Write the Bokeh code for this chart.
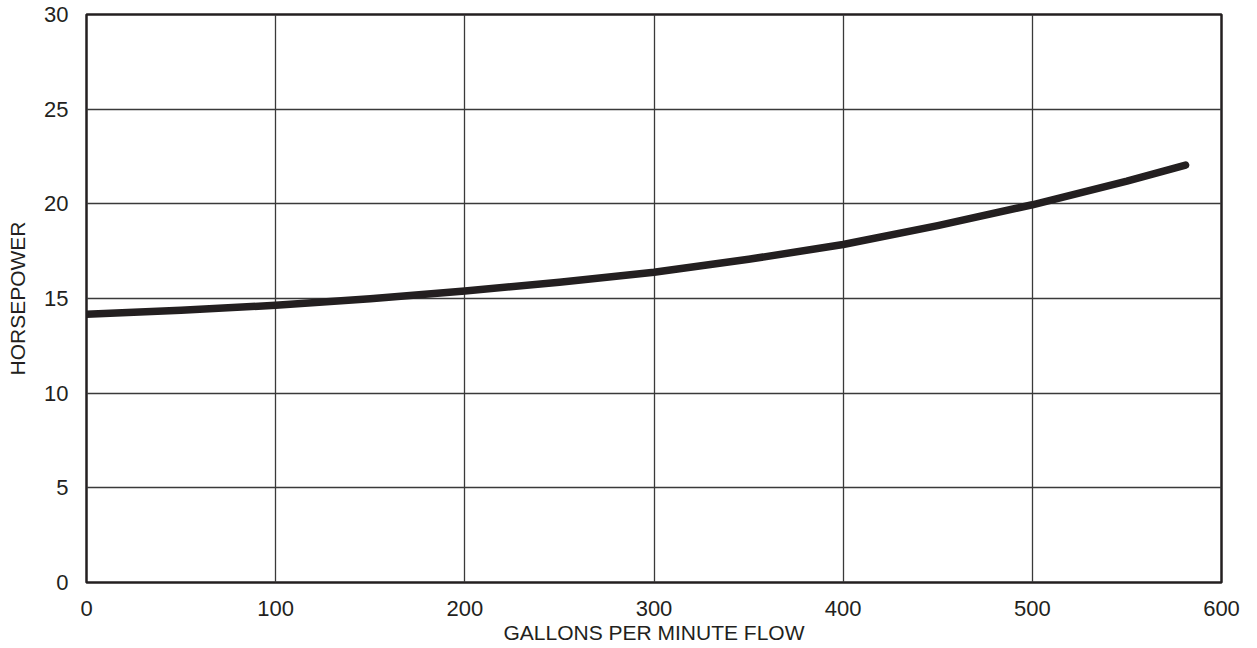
from bokeh.plotting import figure
from bokeh.embed import file_html
from bokeh.resources import INLINE
from bokeh.models import Range1d, FixedTicker

# Data
gpm = [0, 50, 100, 150, 200, 250, 300, 350, 400, 450, 500, 550, 581]
horsepower = [14.17, 14.38, 14.64, 14.99, 15.40, 15.86, 16.39, 17.07, 17.85, 18.85, 19.95, 21.20, 22.05]
x_ticks = [0, 100, 200, 300, 400, 500, 600]
y_ticks = [0, 5, 10, 15, 20, 25, 30]

INK = "#231f20"
FONT = "Liberation Sans"

p = figure(frame_width=1135, frame_height=568, output_backend="svg", toolbar_location=None,
           x_range=Range1d(0, 600), y_range=Range1d(0, 30),
           min_border_left=86, min_border_right=20, min_border_top=14, min_border_bottom=50)

p.outline_line_color = INK
p.outline_line_width = 2.5
p.outline_line_alpha = 1.0

for ax in (p.xaxis[0], p.yaxis[0]):
    ax.axis_line_color = None
    ax.major_tick_line_color = None
    ax.minor_tick_line_color = None
    ax.major_tick_in = 0
    ax.major_tick_out = 0
    ax.major_label_text_font = FONT
    ax.major_label_text_font_size = "22px"
    ax.major_label_text_color = INK
    ax.axis_label_text_font = FONT
    ax.axis_label_text_font_size = "21px"
    ax.axis_label_text_font_style = "normal"
    ax.axis_label_text_color = INK

p.xaxis.ticker = FixedTicker(ticks=x_ticks)
p.yaxis.ticker = FixedTicker(ticks=y_ticks)
p.xaxis.axis_label = "GALLONS PER MINUTE FLOW"
p.yaxis.axis_label = "HORSEPOWER"
p.xaxis.major_label_standoff = 18
p.xaxis.axis_label_standoff = 2
p.yaxis.major_label_standoff = 18
p.yaxis.axis_label_standoff = 12

p.xgrid.ticker = FixedTicker(ticks=x_ticks)
p.ygrid.ticker = FixedTicker(ticks=y_ticks)
for g in (p.xgrid[0], p.ygrid[0]):
    g.grid_line_color = "#3a3a3a"
    g.grid_line_width = 1.3
    g.grid_line_alpha = 1.0

p.line(gpm, horsepower, line_color=INK, line_width=7.5, line_cap="round", line_join="round")

p.background_fill_color = "white"
p.border_fill_color = "white"

open("out.html", "w").write(file_html(p, INLINE))
